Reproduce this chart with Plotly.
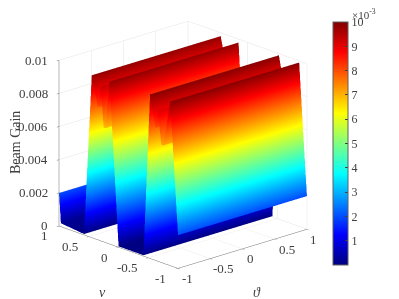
import plotly.graph_objects as go

theta_values = [-1.0, -0.5, 0.0, 0.5, 1.0]
nu_values = [-1.0, -0.87, -0.75, -0.72, -0.66, -0.62, -0.53, -0.42, 0.0, 0.15, 0.22, 0.25, 0.30, 0.35, 0.45, 0.58, 0.97, 1.0]
gain_profile = [0.002, 0.0099, 0.0071, 0.0071, 0.0091, 0.0080, 0.0099, 0.00005, 0.00005, 0.0098, 0.0069, 0.0069, 0.0093, 0.0080, 0.0098, 0.00005, 0.0002, 0.002]

z_ticks = [0, 0.002, 0.004, 0.006, 0.008, 0.01]
z_labels = ["0", "0.002", "0.004", "0.006", "0.008", "0.01"]
xy_ticks = [-1, -0.5, 0, 0.5, 1]
xy_labels = ["-1", "-0.5", "0", "0.5", "1"]
cbar_ticks = [0.001, 0.002, 0.003, 0.004, 0.005, 0.006, 0.007, 0.008, 0.009, 0.01]
cbar_labels = ["1", "2", "3", "4", "5", "6", "7", "8", "9", "10"]

z_rows = [[gain_profile[i]] * len(theta_values) for i in range(len(nu_values))]

jet = [[0, "rgb(0,0,128)"], [0.125, "rgb(0,0,255)"], [0.375, "rgb(0,255,255)"],
       [0.625, "rgb(255,255,0)"], [0.875, "rgb(255,0,0)"], [1, "rgb(128,0,0)"]]

FONT = "Liberation Serif"
TXT = "#404040"

fig = go.Figure(go.Surface(
    x=theta_values, y=nu_values, z=z_rows,
    colorscale=jet, cmin=0, cmax=0.01,
    lighting=dict(ambient=1, diffuse=0, specular=0, roughness=1, fresnel=0),
    showscale=True,
    colorbar=dict(
        x=325 / 399, xanchor="left", y=1 - 14 / 299, yanchor="top",
        lenmode="pixels", len=243, thicknessmode="pixels", thickness=15,
        tickvals=cbar_ticks, ticktext=cbar_labels, ticks="inside", ticklen=3,
        tickcolor="#404040", outlinecolor="#606060", outlinewidth=1,
        xpad=0, ypad=0,
        tickfont=dict(family=FONT, size=12, color=TXT),
    ),
))

def axis(ticks, labels, rng):
    return dict(
        range=rng, tickvals=ticks, ticktext=labels, title=dict(text=""),
        showticklabels=False,
        showgrid=True, gridcolor="#e4e4e4", gridwidth=1,
        showline=True, linecolor="#707070", linewidth=1,
        ticks="outside", ticklen=3, tickcolor="#707070",
        showbackground=False, zeroline=False, showspikes=False,
    )

tick_font = dict(family=FONT, size=13, color=TXT)
scene_notes = []
for val, lab in zip(z_ticks, z_labels):
    scene_notes.append(dict(x=-1, y=1, z=val, text=lab, showarrow=False, xanchor="right",
                            xshift=-9, font=tick_font))
nu_dx = [-17, -21, -14, -19, -15]
for val, lab, dx in zip(xy_ticks, xy_labels, nu_dx):
    scene_notes.append(dict(x=-1, y=val, z=0, text=lab, showarrow=False,
                            xshift=dx, yshift=-10, font=tick_font))
theta_dx = [10, 13, 8, 12, 7]
for val, lab, dx in zip(xy_ticks, xy_labels, theta_dx):
    scene_notes.append(dict(x=val, y=-1, z=0, text=lab, showarrow=False,
                            xshift=dx, yshift=-10, font=tick_font))

fig.update_layout(
    width=399, height=299, margin=dict(l=0, r=0, t=0, b=0),
    paper_bgcolor="white", showlegend=False,
    scene=dict(
        domain=dict(x=[0, 0.877], y=[0.03, 1]),
        xaxis=axis(xy_ticks, xy_labels, [-1, 1]),
        yaxis=axis(xy_ticks, xy_labels, [-1, 1]),
        zaxis=axis(z_ticks, z_labels, [0, 0.01]),
        aspectmode="manual", aspectratio=dict(x=1.21, y=1.21, z=1.21),
        camera=dict(
            projection=dict(type="orthographic"),
            up=dict(x=0, y=0, z=1), center=dict(x=0, y=0, z=-0.06),
            eye=dict(x=-1.06, y=-1.15, z=0.485),
        ),
        annotations=scene_notes,
    ),
    annotations=[
        dict(text="Beam Gain", x=8 / 399, y=1 - 135 / 299, xref="paper", yref="paper", xanchor="center",
             textangle=-90, showarrow=False, font=dict(family=FONT, size=14, color=TXT)),
        dict(text="<i>ν</i>", x=94 / 399, y=1 - 284 / 299, xref="paper", yref="paper", xanchor="center",
             yanchor="middle", showarrow=False, font=dict(family=FONT, size=14, color=TXT)),
        dict(text="<i>ϑ</i>", x=249 / 399, y=1 - 284 / 299, xref="paper", yref="paper", xanchor="center",
             yanchor="middle", showarrow=False, font=dict(family=FONT, size=14, color=TXT)),
        dict(text="×10<sup>-3</sup>", x=356 / 399, y=1 - 15 / 299, xref="paper", yref="paper", yanchor="bottom",
             xanchor="center", showarrow=False, font=dict(family=FONT, size=11, color=TXT)),
    ],
)
fig.write_html("out.html")
